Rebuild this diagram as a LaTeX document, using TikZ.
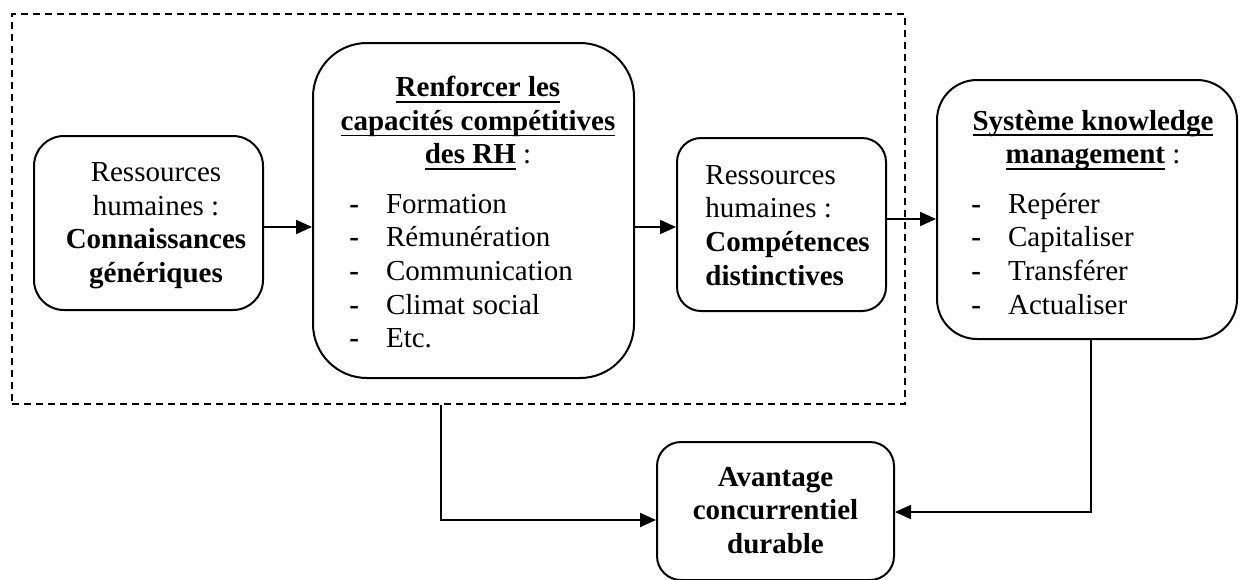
\documentclass[tikz,border=0pt]{standalone}
\usepackage{fontspec}
\setmainfont{Liberation Serif}
\usetikzlibrary{arrows.meta}

\newsavebox{\ulbox}
\newcommand{\souligne}[1]{\sbox{\ulbox}{#1}\rlap{\rule[-3pt]{\wd\ulbox}{0.8pt}}\usebox{\ulbox}}

\tikzset{
  bloc/.style={draw, line width=1pt, inner sep=0pt},
  txt/.style={inner sep=0pt, anchor=base},
  fleche/.style={line width=1pt, -{Triangle[length=8pt,width=7pt]}},
}

\begin{document}
\begin{tikzpicture}[x=0.5pt,y=-0.5pt,font=\fontsize{14.5pt}{16.85pt}\selectfont]
\useasboundingbox (0,0) rectangle (1240,579);

% cadre en pointilles
\node[draw, dash pattern=on 3.5pt off 2.5pt, line width=0.9pt, inner sep=0pt,
      minimum width=446.5pt, minimum height=195pt] (grp) at (458.5,209) {};

% ressources humaines : connaissances
\node[bloc, rounded corners=15pt, minimum width=114.5pt, minimum height=87pt] (cg) at (148.5,223) {};
\node[txt] (cgt) at (156,181.5) {\begin{tabular}[t]{@{}c@{}}Ressources\\ humaines :\\
  \textbf{Connaissances}\\ \textbf{génériques}\end{tabular}};

% renforcer les capacites
\node[bloc, rounded corners=27pt, minimum width=160.5pt, minimum height=167.5pt] (rc) at (473.5,210.5) {};
\node[txt] (rct) at (478,96.5) {\begin{tabular}[t]{@{}c@{}}\souligne{\textbf{Renforcer les}}\\
  \souligne{\textbf{capacités compétitives}}\\ \souligne{\textbf{des RH}} :\end{tabular}};
\node[txt, anchor=base west] (rcl) at (349,213) {\begin{tabular}[t]{@{}l@{\hspace{13.5pt}}l@{}}
  \textbf{-} & Formation\\ \textbf{-} & Rémunération\\ \textbf{-} & Communication\\
  \textbf{-} & Climat social\\ \textbf{-} & Etc.\end{tabular}};

% competences distinctives
\node[bloc, rounded corners=12pt, minimum width=104.5pt, minimum height=86.5pt] (cd) at (781.5,224.5) {};
\node[txt, anchor=base west] (cdt) at (705,184) {\begin{tabular}[t]{@{}l@{}}Ressources\\ humaines :\\
  \textbf{Compétences}\\ \textbf{distinctives}\end{tabular}};

% knowledge management
\node[bloc, rounded corners=20pt, minimum width=150pt, minimum height=129.5pt] (km) at (1087,209.5) {};
\node[txt] (kmt) at (1093,130) {\begin{tabular}[t]{@{}c@{}}\souligne{\textbf{Système knowledge}}\\
  \souligne{\textbf{management}} :\end{tabular}};
\node[txt, anchor=base west] (kml) at (971,213) {\begin{tabular}[t]{@{}l@{\hspace{13.5pt}}l@{}}
  \textbf{-} & Repérer\\ \textbf{-} & Capitaliser\\ \textbf{-} & Transférer\\
  \textbf{-} & Actualiser\end{tabular}};

% avantage concurrentiel
\node[bloc, rounded corners=12pt, minimum width=118.5pt, minimum height=69pt] (avg) at (775.5,511) {};
\node[txt] (avgt) at (775.5,486) {\begin{tabular}[t]{@{}c@{}}\textbf{Avantage}\\
  \textbf{concurrentiel}\\ \textbf{durable}\end{tabular}};

% fleches
\coordinate (h1) at (0,227);
\coordinate (h2) at (0,219);
\coordinate (p1) at (441,520);
\coordinate (p2) at (1091,512);
\draw[fleche] (cg.east |- h1) -- (rc.west |- h1);
\draw[fleche] (rc.east |- h1) -- (cd.west |- h1);
\draw[fleche] (cd.east |- h2) -- (km.west |- h2);
\draw[fleche] (grp.south -| p1) |- (avg.west |- p1);
\draw[fleche] (km.south -| p2) |- (avg.east |- p2);
\end{tikzpicture}
\end{document}
